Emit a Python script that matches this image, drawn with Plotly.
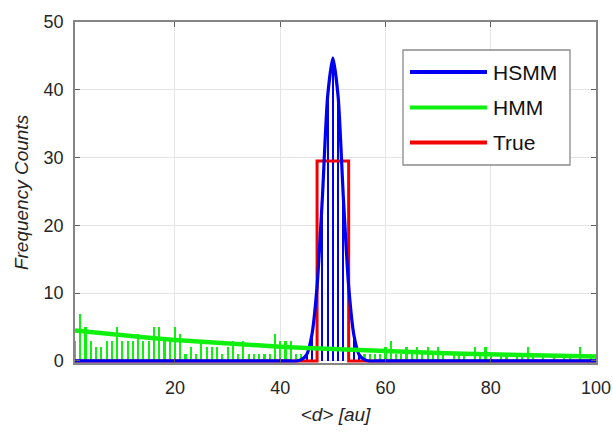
import plotly.graph_objects as go

# ---------------- data ----------------
x_vals = list(range(1, 101))

hmm_counts = [
    3, 7, 5, 3, 2, 2, 3, 3, 5, 3,
    3, 3, 4, 3, 3, 5, 5, 3, 3, 5,
    4, 1, 2, 1, 3, 2, 2, 2, 1, 2,
    3, 1, 3, 1, 1, 1, 1, 1, 4, 3,
    3, 3, 1, 1, 1, 3, 1, 2, 1, 2,
    1, 2, 1, 2, 1, 1, 1, 1, 1, 2,
    3, 1, 1, 2, 1, 2, 1, 2, 1, 2,
    1, 0, 1, 1, 1, 0, 2, 1, 2, 1,
    0, 1, 1, 0, 1, 1, 2, 1, 0, 1,
    0, 1, 0, 1, 1, 0, 2, 0, 1, 1,
]

hsmm_counts = [
    0, 0, 0, 0, 0, 0, 0, 0, 0, 0,
    0, 0, 0, 0, 0, 0, 0, 0, 0, 0,
    0, 0, 0, 0, 0, 0, 0, 0, 0, 0,
    0, 0, 0, 0, 0, 0, 0, 0, 0, 0,
    0, 0, 0, 0.2, 0.9, 3.8, 11, 24, 39, 44.7,
    39, 24, 11, 3.8, 0.9, 0.2, 0, 0, 0, 0,
    0, 0, 0, 0, 0, 0, 0, 0, 0, 0,
    0, 0, 0, 0, 0, 0, 0, 0, 0, 0,
    0, 0, 0, 0, 0, 0, 0, 0, 0, 0,
    0, 0, 0, 0, 0, 0, 0, 0, 0, 0,
]

hmm_fit_x = [1, 5, 10, 15, 20, 25, 30, 35, 40, 45, 50,
             55, 60, 65, 70, 75, 80, 85, 90, 95, 100]
hmm_fit_y = [4.50, 4.16, 3.77, 3.42, 3.10, 2.81, 2.55, 2.31, 2.10, 1.90, 1.72,
             1.56, 1.42, 1.28, 1.16, 1.06, 0.96, 0.87, 0.79, 0.71, 0.65]

true_x = [1, 47, 47, 53, 53, 100]
true_y = [0, 0, 29.5, 29.5, 0, 0]

series_names = ["HSMM", "HMM", "True"]
x_ticks = [20, 40, 60, 80, 100]
y_ticks = [0, 10, 20, 30, 40, 50]

# ---------------- styles ----------------
BLUE = "#0000f0"
GREEN = "#10f010"
RED = "#f00000"
FONT = "Liberation Sans, Arial, sans-serif"

fig = go.Figure()

# stems (bars)
fig.add_trace(go.Bar(x=x_vals, y=hmm_counts, width=0.4, marker_color=GREEN,
                     marker_line_width=0, showlegend=False, name="HMM"))
fig.add_trace(go.Bar(x=x_vals, y=hsmm_counts, width=0.38, marker_color=BLUE,
                     marker_line_width=0, showlegend=False, name="HSMM"))

# lines
fig.add_trace(go.Scatter(x=true_x, y=true_y, mode="lines", name="True",
                         line=dict(color=RED, width=3), showlegend=False))
fig.add_trace(go.Scatter(x=x_vals, y=hsmm_counts, mode="lines", name="HSMM",
                         line=dict(color=BLUE, width=3.2, shape="spline", smoothing=0.6),
                         showlegend=False))
fig.add_trace(go.Scatter(x=hmm_fit_x, y=hmm_fit_y, mode="lines", name="HMM",
                         line=dict(color=GREEN, width=4.5), showlegend=False))

# ---------------- manual legend (MATLAB style) ----------------
L, R, T, B = 75, 596, 22, 363   # plot area in pixels
def px(xp):
    return (xp - L) / (R - L)
def py(yp):
    return (B - yp) / (B - T)

shapes = [dict(type="rect", xref="paper", yref="paper",
               x0=px(403), x1=px(570), y0=py(165), y1=py(50),
               line=dict(color="#8a8a8a", width=1.3), fillcolor="white", layer="above")]
annotations = []
legend_colors = [BLUE, GREEN, RED]
row_y = [72, 107.5, 142.5]
for name, col, ry in zip(series_names, legend_colors, row_y):
    shapes.append(dict(type="line", xref="paper", yref="paper",
                       x0=px(410), x1=px(487), y0=py(ry), y1=py(ry),
                       line=dict(color=col, width=4), layer="above"))
    annotations.append(dict(xref="paper", yref="paper", x=px(491), y=py(ry),
                            text=name, showarrow=False, xanchor="left", yanchor="middle",
                            font=dict(family=FONT, size=21, color="#111111")))

fig.update_layout(
    width=613, height=433,
    margin=dict(l=L, r=613 - R, t=T, b=433 - B),
    paper_bgcolor="white", plot_bgcolor="white",
    barmode="overlay", bargap=0,
    showlegend=False,
    shapes=shapes, annotations=annotations,
    font=dict(family=FONT, color="#262626"),
)

axis_common = dict(
    automargin=False,
    showgrid=True, gridcolor="#e4e4e4", gridwidth=1,
    showline=True, linecolor="#858585", linewidth=1.5, mirror="ticks",
    ticks="inside", ticklen=5, tickcolor="#606060", tickwidth=1,
    zeroline=False,
    tickfont=dict(family=FONT, size=18, color="#262626"),
)

fig.update_xaxes(range=[1, 100], tickvals=x_ticks, ticktext=[str(v) for v in x_ticks],
                 title=dict(text="<i>&lt;d&gt; [au]</i>", font=dict(family=FONT, size=19, color="#262626"),
                            standoff=10),
                 ticklabelstandoff=8, **axis_common)
fig.update_yaxes(range=[-0.3, 50], tickvals=y_ticks, ticktext=[str(v) for v in y_ticks],
                 title=dict(text="<i>Frequency Counts</i>", font=dict(family=FONT, size=19, color="#262626"),
                            standoff=10),
                 ticklabelstandoff=6, **axis_common)

fig.write_html("out.html")
